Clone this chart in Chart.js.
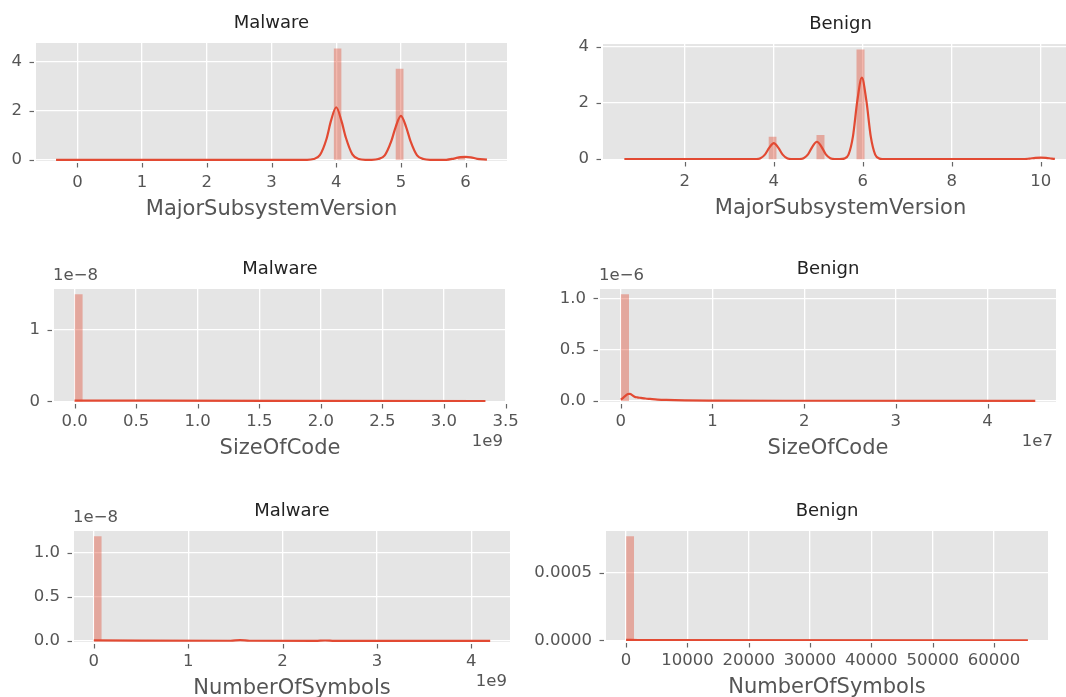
<!DOCTYPE html>
<html><head><meta charset="utf-8">
<script src="https://cdn.jsdelivr.net/npm/chart.js@4"></script>
<style>
html,body{margin:0;padding:0;background:#fff;width:1066px;height:697px;overflow:hidden;position:relative}
canvas{position:absolute}
</style></head><body>
<script>
// ================= DATA =================
// Row 1 : MajorSubsystemVersion
const msvMalBinLeft  = [3.96, 4.92, 5.88];
const msvMalBinRight = [4.08, 5.04, 6.00];
const msvMalDensity  = [4.55, 3.73, 0.10];
const msvMalKdeX = [-0.33, 3.55, 3.65, 3.75, 3.85, 3.92, 4.0, 4.08, 4.15, 4.25, 4.35, 4.45, 4.55, 4.65, 4.75, 4.85, 4.92, 5.0, 5.08, 5.15, 5.25, 5.35, 5.45, 5.7, 5.82, 5.92, 6.0, 6.08, 6.18, 6.33];
const msvMalKdeY = [0, 0, 0.03, 0.2, 0.85, 1.6, 2.15, 1.6, 0.9, 0.22, 0.03, 0, 0, 0.03, 0.18, 0.75, 1.35, 1.80, 1.35, 0.75, 0.18, 0.03, 0, 0, 0.05, 0.11, 0.12, 0.1, 0.04, 0.01];
const msvMalXTicks = [0, 1, 2, 3, 4, 5, 6];
const msvMalXTickLabels = ["0", "1", "2", "3", "4", "5", "6"];
const msvMalYTicks = [0, 2, 4];
const msvMalYTickLabels = ["0", "2", "4"];

const msvBenBinLeft  = [3.88, 4.96, 5.86, 9.82];
const msvBenBinRight = [4.06, 5.14, 6.04, 10.00];
const msvBenDensity  = [0.80, 0.86, 3.90, 0.04];
const msvBenKdeX = [0.64, 3.5, 3.6, 3.7, 3.8, 3.9, 4.0, 4.1, 4.2, 4.3, 4.4, 4.5, 4.57, 4.67, 4.77, 4.87, 4.97, 5.07, 5.17, 5.27, 5.37, 5.48, 5.58, 5.68, 5.78, 5.88, 5.98, 6.08, 6.18, 6.28, 6.38, 6.5, 9.6, 9.75, 9.88, 10.0, 10.12, 10.25, 10.32];
const msvBenKdeY = [0, 0, 0.003, 0.032, 0.16, 0.41, 0.57, 0.41, 0.16, 0.032, 0.005, 0.002, 0.004, 0.035, 0.17, 0.45, 0.62, 0.45, 0.17, 0.035, 0.004, 0.002, 0.02, 0.16, 0.81, 2.10, 2.90, 2.10, 0.81, 0.16, 0.02, 0, 0, 0.02, 0.045, 0.055, 0.045, 0.02, 0.01];
const msvBenXTicks = [2, 4, 6, 8, 10];
const msvBenXTickLabels = ["2", "4", "6", "8", "10"];
const msvBenYTicks = [0, 2, 4];
const msvBenYTickLabels = ["0", "2", "4"];

// Row 2 : SizeOfCode
const socMalBinLeft  = [0];
const socMalBinRight = [0.0667e9];
const socMalDensity  = [1.50e-8];
const socMalKdeX = [0, 1.75e9, 3.337e9];
const socMalKdeY = [0.01e-8, 0.005e-8, 0.002e-8];
const socMalXTicks = [0, 0.5e9, 1.0e9, 1.5e9, 2.0e9, 2.5e9, 3.0e9, 3.5e9];
const socMalXTickLabels = ["0.0", "0.5", "1.0", "1.5", "2.0", "2.5", "3.0", "3.5"];
const socMalYTicks = [0, 1e-8];
const socMalYTickLabels = ["0", "1"];

const socBenBinLeft  = [0];
const socBenBinRight = [0.0904e7];
const socBenDensity  = [1.04e-6];
const socBenKdeX = [0, 0.02e7, 0.05e7, 0.08e7, 0.10e7, 0.12e7, 0.15e7, 0.18e7, 0.22e7, 0.27e7, 0.32e7, 0.40e7, 0.50e7, 0.70e7, 1.0e7, 2.0e7, 4.52e7];
const socBenKdeY = [0.015e-6, 0.025e-6, 0.05e-6, 0.068e-6, 0.07e-6, 0.06e-6, 0.042e-6, 0.035e-6, 0.03e-6, 0.024e-6, 0.02e-6, 0.014e-6, 0.01e-6, 0.006e-6, 0.004e-6, 0.002e-6, 0.001e-6];
const socBenXTicks = [0, 1e7, 2e7, 3e7, 4e7];
const socBenXTickLabels = ["0", "1", "2", "3", "4"];
const socBenYTicks = [0, 0.5e-6, 1.0e-6];
const socBenYTickLabels = ["0.0", "0.5", "1.0"];

// Row 3 : NumberOfSymbols
const nosMalBinLeft  = [0];
const nosMalBinRight = [0.084e9];
const nosMalDensity  = [1.19e-8];
const nosMalKdeX = [0, 1.45e9, 1.55e9, 1.65e9, 2.35e9, 2.45e9, 2.55e9, 4.2e9];
const nosMalKdeY = [0.008e-8, 0.004e-8, 0.012e-8, 0.004e-8, 0.003e-8, 0.007e-8, 0.003e-8, 0.002e-8];
const nosMalXTicks = [0, 1e9, 2e9, 3e9, 4e9];
const nosMalXTickLabels = ["0", "1", "2", "3", "4"];
const nosMalYTicks = [0, 0.5e-8, 1.0e-8];
const nosMalYTickLabels = ["0.0", "0.5", "1.0"];

const nosBenBinLeft  = [0];
const nosBenBinRight = [1311];
const nosBenDensity  = [0.000773];
const nosBenKdeX = [0, 2000, 65535];
const nosBenKdeY = [0.000004, 0.000002, 0.0000005];
const nosBenXTicks = [0, 10000, 20000, 30000, 40000, 50000, 60000];
const nosBenXTickLabels = ["0", "10000", "20000", "30000", "40000", "50000", "60000"];
const nosBenYTicks = [0, 0.0005];
const nosBenYTickLabels = ["0.0000", "0.0005"];

const titles  = ["Malware", "Benign", "Malware", "Benign", "Malware", "Benign"];
const xTitles = ["MajorSubsystemVersion", "MajorSubsystemVersion", "SizeOfCode", "SizeOfCode", "NumberOfSymbols", "NumberOfSymbols"];
const yOffsetTexts = ["", "", "1e\u22128", "1e\u22126", "1e\u22128", ""];
const xOffsetTexts = ["", "", "1e9", "1e7", "1e9", ""];

// ================= LAYOUT / STYLE =================
const FONT = '"DejaVu Sans", sans-serif';
const panels = [
  {rect:[36, 43, 507, 161],  xr:[-0.64, 6.64],        yr:[-0.05, 4.78],        tp:12, xd:49, bl:msvMalBinLeft, br:msvMalBinRight, d:msvMalDensity, kx:msvMalKdeX, ky:msvMalKdeY, xt:msvMalXTicks, xl:msvMalXTickLabels, yt:msvMalYTicks, yl:msvMalYTickLabels},
  {rect:[603, 44, 1078, 160], xr:[0.16, 10.84],        yr:[-0.03, 4.10],       tp:12, xd:49, bl:msvBenBinLeft, br:msvBenBinRight, d:msvBenDensity, kx:msvBenKdeX, ky:msvBenKdeY, xt:msvBenXTicks, xl:msvBenXTickLabels, yt:msvBenYTicks, yl:msvBenYTickLabels},
  {rect:[54, 289, 506, 402],  xr:[-0.167e9, 3.504e9], yr:[-0.01e-8, 1.575e-8], tp:10, xd:47, bl:socMalBinLeft, br:socMalBinRight, d:socMalDensity, kx:socMalKdeX, ky:socMalKdeY, xt:socMalXTicks, xl:socMalXTickLabels, yt:socMalYTicks, yl:socMalYTickLabels},
  {rect:[600, 289, 1056, 402], xr:[-0.226e7, 4.746e7], yr:[-0.01e-6, 1.092e-6], tp:10, xd:47, bl:socBenBinLeft, br:socBenBinRight, d:socBenDensity, kx:socBenKdeX, ky:socBenKdeY, xt:socBenXTicks, xl:socBenXTickLabels, yt:socBenYTicks, yl:socBenYTickLabels},
  {rect:[74, 531, 510, 642],  xr:[-0.21e9, 4.41e9],   yr:[-0.01e-8, 1.25e-8],  tp:10, xd:47, bl:nosMalBinLeft, br:nosMalBinRight, d:nosMalDensity, kx:nosMalKdeX, ky:nosMalKdeY, xt:nosMalXTicks, xl:nosMalXTickLabels, yt:nosMalYTicks, yl:nosMalYTickLabels},
  {rect:[606, 531, 1048, 641], xr:[-3277, 68812],      yr:[-0.000005, 0.000812], tp:10, xd:47, bl:nosBenBinLeft, br:nosBenBinRight, d:nosBenDensity, kx:nosBenKdeX, ky:nosBenKdeY, xt:nosBenXTicks, xl:nosBenXTickLabels, yt:nosBenYTicks, yl:nosBenYTickLabels}
];
const PAD_L = 80, PAD_T = 45, PAD_R = 30, AX_B = 64;
const TICK_SIZE = 16.5, XTITLE_SIZE = 21, TITLE_SIZE = 18;
const HIST_COLOR = 'rgba(226,74,51,0.4)';
const LINE_COLOR = '#E24A33';

const decoPlugin = {
  id: 'deco',
  beforeDraw(chart) {
    const {ctx, chartArea: a} = chart;
    ctx.save();
    ctx.fillStyle = '#E5E5E5';
    ctx.fillRect(a.left, a.top, a.right - a.left, a.bottom - a.top);
    ctx.restore();
  },
  afterDraw(chart, args, o) {
    const {ctx, chartArea: a, scales: {x, y}} = chart;
    ctx.save();
    ctx.strokeStyle = '#666';
    ctx.lineWidth = 1.2;
    x.ticks.forEach(t => {
      const px = Math.round(x.getPixelForValue(t.value)) + 0.5;
      ctx.beginPath(); ctx.moveTo(px, a.bottom + 2); ctx.lineTo(px, a.bottom + 6.5); ctx.stroke();
    });
    y.ticks.forEach(t => {
      const py = Math.round(y.getPixelForValue(t.value)) + 0.5;
      ctx.beginPath(); ctx.moveTo(a.left - 2, py); ctx.lineTo(a.left - 6.5, py); ctx.stroke();
    });
    ctx.textBaseline = 'middle';
    ctx.fillStyle = '#222';
    ctx.font = TITLE_SIZE + 'px ' + FONT;
    ctx.textAlign = 'center';
    ctx.fillText(o.title, (a.left + a.right) / 2, a.top - 20);
    ctx.fillStyle = '#555';
    ctx.font = TICK_SIZE + 'px ' + FONT;
    if (o.yOff) { ctx.textAlign = 'left'; ctx.fillText(o.yOff, a.left - 1, a.top - 13); }
    if (o.xOff) { ctx.textAlign = 'right'; ctx.fillText(o.xOff, a.right - 3, a.bottom + 40); }
    ctx.restore();
  }
};

panels.forEach((p, i) => {
  const [l, t, r, b] = p.rect;
  const cv = document.createElement('canvas');
  const W = (r - l) + PAD_L + PAD_R, H = (b - t) + PAD_T + AX_B;
  cv.width = W; cv.height = H;
  cv.style.left = (l - PAD_L) + 'px';
  cv.style.top = (t - PAD_T) + 'px';
  cv.style.width = W + 'px'; cv.style.height = H + 'px';
  document.body.appendChild(cv);

  const hist = [];
  p.bl.forEach((x0, k) => {
    hist.push({x: x0, y: 0}, {x: x0, y: p.d[k]}, {x: p.br[k], y: p.d[k]}, {x: p.br[k], y: 0});
  });
  const kde = p.kx.map((x, k) => ({x, y: p.ky[k]}));

  new Chart(cv, {
    type: 'line',
    data: {datasets: [
      {data: kde, borderColor: LINE_COLOR, borderWidth: 2.2, pointRadius: 0, fill: false, cubicInterpolationMode: 'monotone'},
      {data: hist, borderWidth: 0, borderColor: 'rgba(0,0,0,0)', backgroundColor: HIST_COLOR, pointRadius: 0, fill: 'origin', tension: 0}
    ]},
    options: {
      responsive: false, animation: false, devicePixelRatio: 1,
      layout: {padding: {left: 0, top: PAD_T, right: PAD_R, bottom: 0}},
      plugins: {legend: {display: false}, tooltip: {enabled: false},
        deco: {title: titles[i], yOff: yOffsetTexts[i], xOff: xOffsetTexts[i]}},
      scales: {
        x: {type: 'linear', min: p.xr[0], max: p.xr[1],
          afterBuildTicks: s => { s.ticks = p.xt.map(v => ({value: v})); },
          afterFit: s => { s.height = AX_B; },
          ticks: {callback: (v, k) => p.xl[k], autoSkip: false, maxRotation: 0, minRotation: 0,
                  color: '#555', font: {family: FONT, size: TICK_SIZE}, padding: p.tp},
          grid: {color: '#fff', lineWidth: 1.3, drawTicks: false},
          border: {display: false},
          title: {display: true, text: xTitles[i], color: '#555', font: {family: FONT, size: XTITLE_SIZE, lineHeight: 1.2},
                  padding: {top: 0, bottom: AX_B - p.xd - XTITLE_SIZE * 0.6}}
        },
        y: {type: 'linear', min: p.yr[0], max: p.yr[1],
          afterBuildTicks: s => { s.ticks = p.yt.map(v => ({value: v})); },
          afterFit: s => { s.width = PAD_L; },
          ticks: {callback: (v, k) => p.yl[k], autoSkip: false, color: '#555', font: {family: FONT, size: TICK_SIZE}, padding: 14},
          grid: {color: '#fff', lineWidth: 1.3, drawTicks: false},
          border: {display: false}
        }
      }
    },
    plugins: [decoPlugin]
  });
});
</script>
</body></html>
